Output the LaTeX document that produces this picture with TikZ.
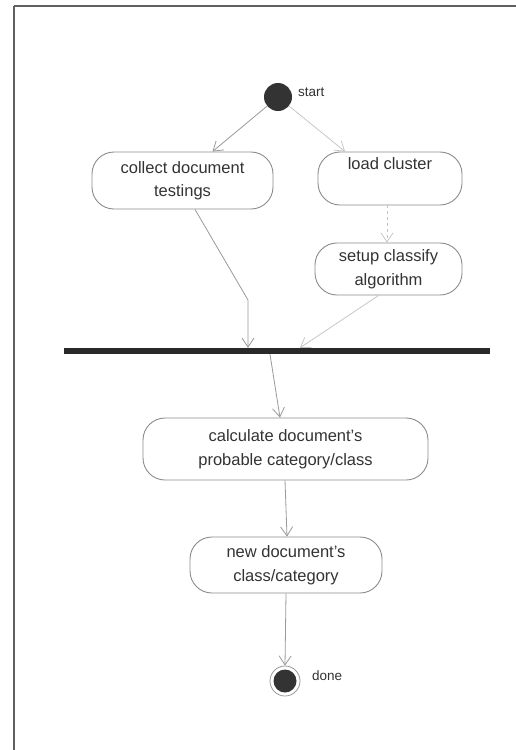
\documentclass[tikz,border=0pt]{standalone}
\usepackage{fontspec}
\setmainfont{Liberation Sans}
\usetikzlibrary{arrows.meta}
\definecolor{ink}{HTML}{333333}
\definecolor{edge}{HTML}{9A9A9A}
\definecolor{boxline}{HTML}{8C8C8C}
\begin{document}
\begin{tikzpicture}[x=1pt,y=-1pt,
  activity/.style={draw=boxline, line width=0.9pt, rounded corners=22pt,
    align=center, text=ink, inner sep=0pt,
    font=\fontsize{16.5}{23.5}\selectfont},
  flow/.style={draw=edge, line width=0.8pt,
    -{Straight Barb[length=9pt,width=12pt]}},
  faint/.style={draw=edge!60, line width=0.7pt,
    -{Straight Barb[length=9pt,width=12pt]}},
  tag/.style={text=ink, anchor=west, inner sep=0pt,
    font=\fontsize{13.5}{16}\selectfont}]
\useasboundingbox (0,0) rectangle (516,750);
\fill[white] (0,0) rectangle (516,750);

% frame lines
\draw[gray!75!black, line width=2pt] (14,6) -- (516,6);
\draw[gray!75!black, line width=2pt] (14,6) -- (14,750);

% initial and final states
\node[circle, fill=ink, minimum size=28pt, inner sep=0pt] (start) at (278,97) {};
\node[tag] (startlbl) at (298,92) {start};
\node[circle, draw=edge, line width=0.8pt, minimum size=30pt, inner sep=0pt] (done) at (285,681) {};
\node[circle, fill=ink, minimum size=23pt, inner sep=0pt] (donedot) at (285,681) {};
\node[tag] (donelbl) at (312,676) {done};

% activities
\node[activity, minimum width=181pt, minimum height=57pt] (collect) at (182.5,180.5) {collect document\\testings};
\node[activity, minimum width=144pt, minimum height=53pt] (load) at (390,178.5) {load cluster\\\strut};
\node[activity, minimum width=147pt, minimum height=52pt] (setup) at (388.5,269) {setup classify\\algorithm};
\node[activity, minimum width=285pt, minimum height=62pt] (calc) at (285.5,449) {calculate document's\\probable category/class};
\node[activity, minimum width=192pt, minimum height=56pt] (newcls) at (286,565) {new document's\\class/category};

% synchronisation bar
\node[fill=ink!80!black, minimum width=426pt, minimum height=6pt, inner sep=0pt] (bar) at (277,351) {};

% transitions
\draw[flow] (start) -- ([xshift=30pt]collect.north);
\draw[faint] (start) -- ([xshift=-45pt]load.north);
\draw[faint, dashed] ([xshift=-3pt]load.south) -- ([xshift=-1.5pt]setup.north);
\draw[flow] ([xshift=12.5pt]collect.south) -- (248,300) -- ([xshift=-29pt]bar.north);
\draw[faint] ([xshift=-10pt]setup.south) -- ([xshift=23pt]bar.north);
\draw[flow] ([xshift=-7pt]bar.south) -- ([xshift=-5.5pt]calc.north);
\draw[flow] ([xshift=-0.5pt]calc.south) -- ([xshift=1pt]newcls.north);
\draw[flow] (newcls.south) -- (done.north);
\end{tikzpicture}
\end{document}
